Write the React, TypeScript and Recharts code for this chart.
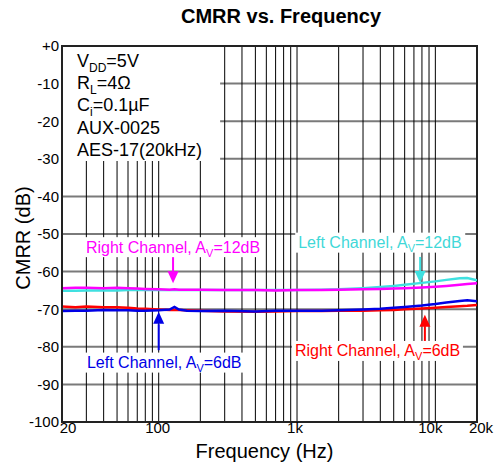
import React from "react";
import { LineChart, Line, XAxis, YAxis, CartesianGrid, ReferenceArea, ReferenceLine, ReferenceDot } from "recharts";

const freqs = [
  20, 25, 30, 40, 50, 60, 70, 80, 100, 120, 130, 140, 160, 200, 300, 500, 700, 1000, 1500, 2000, 3000, 4000, 5000,
  6000, 8000, 10000, 12000, 15000, 17000, 20000,
];

// CMRR (dB) per channel / gain
const rightCh12dB = [
  -64.4, -64.3, -64.3, -64.4, -64.3, -64.4, -64.5, -64.6, -64.7, -64.8, -64.7, -64.8, -64.8, -64.8, -64.9, -64.9, -65.0,
  -64.9, -64.9, -64.8, -64.7, -64.6, -64.5, -64.4, -64.2, -64.0, -63.8, -63.5, -63.3, -63.1,
];
const leftCh12dB = [
  -65.1, -65.1, -65.0, -65.0, -65.0, -64.9, -64.9, -64.9, -64.9, -64.9, -64.9, -64.9, -64.9, -64.9, -64.9, -64.9, -64.9,
  -64.9, -64.8, -64.7, -64.4, -64.1, -63.8, -63.5, -63.0, -62.6, -62.2, -61.8, -61.7, -62.3,
];
const leftCh6dB = [
  -70.5, -70.4, -70.4, -70.2, -70.3, -70.3, -70.4, -70.4, -70.3, -70.1, -69.4, -70.1, -70.4, -70.5, -70.4, -70.6, -70.4,
  -70.4, -70.4, -70.3, -70.1, -69.9, -69.6, -69.4, -69.0, -68.6, -68.2, -67.8, -67.6, -67.9,
];
const rightCh6dB = [
  -69.3, -69.5, -69.3, -69.5, -69.5, -69.6, -69.8, -69.9, -70.1, -70.2, -70.2, -70.2, -70.3, -70.4, -70.6, -70.7, -70.6,
  -70.5, -70.5, -70.4, -70.4, -70.3, -70.2, -70.0, -69.8, -69.6, -69.4, -69.2, -69.1, -68.9,
];

const yTicks = [0, -10, -20, -30, -40, -50, -60, -70, -80, -90, -100];
const yMinorTicks = Array.from({ length: 101 }, (_, i) => -i);
const gridFreqs = [
  20, 30, 40, 50, 60, 70, 80, 90, 100, 200, 300, 400, 500, 600, 700, 800, 900, 1000, 2000, 3000, 4000, 5000, 6000, 7000,
  8000, 9000, 10000, 20000,
];
const xTickLabels: Record<number, string> = { 20: "20", 100: "100", 1000: "1k", 10000: "10k", 20000: "20k" };
const xTickShift: Record<number, number> = { 20: 6, 100: -1, 1000: -2, 10000: -5, 20000: 4 };

const FONT = "'Liberation Sans', Arial, Helvetica, sans-serif";

const toPoints = (vals: number[]) => freqs.map((f, i) => ({ f, v: vals[i] }));

const XTick = (props: any) => {
  const { x, y, payload } = props;
  const label = xTickLabels[payload.value];
  if (!label) return <g />;
  return (
    <text x={x + (xTickShift[payload.value] || 0)} y={y} dy="0.71em" textAnchor="middle" fontSize={15} fill="#000" fontFamily={FONT}>
      {label}
    </text>
  );
};

// text with a white box behind it, "A" with subscript V
const ChannelLabel = (props: any) => {
  const { cx, cy, name, gain, color, width } = props;
  return (
    <g>
      <rect x={cx - 3} y={cy - 10} width={width + 6} height={20} fill="#fff" />
      <text x={cx} y={cy + 5.5} fontSize={16} fill={color} fontFamily={FONT}>
        {name}, A
        <tspan fontSize={11} dy={4}>
          V
        </tspan>
        <tspan dy={-4}>={gain}</tspan>
      </text>
    </g>
  );
};

const ArrowHead = (props: any) => {
  const { cx, cy, color, dir } = props;
  const h = dir === "down" ? -12 : 12;
  return <path d={`M${cx - 5.5},${cy + h}L${cx + 5.5},${cy + h}L${cx},${cy}Z`} fill={color} />;
};

const InfoText = (props: any) => {
  const { cx, cy } = props;
  const x = cx + 15;
  const t = { fontSize: 18, fill: "#000", fontFamily: FONT } as const;
  return (
    <g>
      <text x={x} y={cy + 21} {...t}>
        V<tspan fontSize={12} dy={5}>DD</tspan>
        <tspan dy={-5}>=5V</tspan>
      </text>
      <text x={x} y={cy + 43} {...t}>
        R<tspan fontSize={12} dy={5}>L</tspan>
        <tspan dy={-5}>=4Ω</tspan>
      </text>
      <text x={x} y={cy + 65} {...t}>
        C<tspan fontSize={12} dy={5}>i</tspan>
        <tspan dy={-5}>=0.1µF</tspan>
      </text>
      <text x={x} y={cy + 87.5} {...t}>
        AUX-0025
      </text>
      <text x={x} y={cy + 110} {...t}>
        AES-17(20kHz)
      </text>
    </g>
  );
};

export default function App() {
  return (
    <div style={{ position: "absolute", left: 0, top: 0, width: 502, height: 471, background: "#fff", fontFamily: FONT }}>
      <div
        style={{
          position: "absolute",
          left: 281,
          top: 5,
          transform: "translateX(-50%)",
          fontSize: 20,
          fontWeight: "bold",
          whiteSpace: "nowrap",
        }}
      >
        CMRR vs. Frequency
      </div>
      <div
        style={{
          position: "absolute",
          left: 23,
          top: 238,
          transform: "translate(-50%, -50%) rotate(-90deg)",
          fontSize: 20,
          whiteSpace: "nowrap",
        }}
      >
        CMRR (dB)
      </div>
      <LineChart width={502} height={471} margin={{ top: 46, right: 25, bottom: 0, left: 0 }}>
        <CartesianGrid vertical={false} stroke="#7a7a7a" strokeWidth={2} />
        <CartesianGrid horizontal={false} stroke="#000" strokeWidth={1} />
        <XAxis
          dataKey="f"
          type="number"
          scale="log"
          domain={[20, 20000]}
          ticks={gridFreqs}
          interval={0}
          allowDataOverflow
          height={49}
          tickLine={false}
          tickSize={0}
          tickMargin={0}
          axisLine={{ stroke: "#222", strokeWidth: 2 }}
          tick={<XTick />}
          label={{ value: "Frequency (Hz)", position: "insideBottom", offset: 13, dx: -5, fontSize: 20, fill: "#000", fontFamily: FONT }}
        />
        <YAxis
          yAxisId="minor"
          type="number"
          domain={[-100, 0]}
          ticks={yMinorTicks}
          interval={0}
          mirror
          width={0}
          tick={false}
          tickSize={3}
          axisLine={false}
          tickLine={{ stroke: "#333", strokeWidth: 1 }}
        />
        <YAxis
          type="number"
          domain={[-100, 0]}
          ticks={yTicks}
          interval={0}
          width={62}
          tickLine={false}
          tickSize={0}
          tickMargin={3}
          axisLine={{ stroke: "#222", strokeWidth: 2 }}
          tickFormatter={(v: number) => (v === 0 ? "+0" : String(v))}
          tick={{ fontSize: 15, fill: "#000", fontFamily: FONT }}
        />
        <ReferenceArea x1={20} x2={278} y1={-30.6} y2={0} fill="#fff" fillOpacity={1} stroke="none" />
        <ReferenceArea x1={20} x2={20000} y1={-100} y2={0} fill="none" stroke="#222" strokeWidth={2} />

        <Line data={toPoints(leftCh12dB)} dataKey="v" stroke="#3fe0e0" strokeWidth={2.5} dot={false} isAnimationActive={false} />
        <Line data={toPoints(rightCh12dB)} dataKey="v" stroke="#ff00ff" strokeWidth={2.5} dot={false} isAnimationActive={false} />
        <Line data={toPoints(rightCh6dB)} dataKey="v" stroke="#ff0000" strokeWidth={2.5} dot={false} isAnimationActive={false} />
        <Line data={toPoints(leftCh6dB)} dataKey="v" stroke="#0000e6" strokeWidth={2.5} dot={false} isAnimationActive={false} />

        <ReferenceDot x={20} y={0} r={0} shape={(p: any) => <InfoText {...p} />} />

        <ReferenceDot x={29.8} y={-53.5} r={0} shape={(p: any) => <ChannelLabel {...p} name="Right Channel" gain="12dB" color="#ff00ff" width={169} />} />
        <ReferenceDot x={1020} y={-52.3} r={0} shape={(p: any) => <ChannelLabel {...p} name="Left Channel" gain="12dB" color="#3fd8d8" width={164} />} />
        <ReferenceDot x={30.3} y={-84.2} r={0} shape={(p: any) => <ChannelLabel {...p} name="Left Channel" gain="6dB" color="#0000e6" width={155} />} />
        <ReferenceDot x={966} y={-81.1} r={0} shape={(p: any) => <ChannelLabel {...p} name="Right Channel" gain="6dB" color="#ff0000" width={165} />} />

        <ReferenceLine segment={[{ x: 127, y: -55.6 }, { x: 127, y: -60 }]} stroke="#ff00ff" strokeWidth={2} />
        <ReferenceDot x={127} y={-63.1} r={0} shape={(p: any) => <ArrowHead {...p} color="#ff00ff" dir="down" />} />
        <ReferenceLine segment={[{ x: 7760, y: -56.1 }, { x: 7760, y: -60 }]} stroke="#3fe0e0" strokeWidth={2} />
        <ReferenceDot x={7760} y={-63} r={0} shape={(p: any) => <ArrowHead {...p} color="#3fe0e0" dir="down" />} />
        <ReferenceLine segment={[{ x: 100, y: -80.9 }, { x: 100, y: -74 }]} stroke="#0000e6" strokeWidth={2} />
        <ReferenceDot x={100} y={-70.7} r={0} shape={(p: any) => <ArrowHead {...p} color="#0000e6" dir="up" />} />
        <ReferenceLine segment={[{ x: 8400, y: -78.7 }, { x: 8400, y: -74.5 }]} stroke="#ff0000" strokeWidth={2} />
        <ReferenceDot x={8400} y={-71.5} r={0} shape={(p: any) => <ArrowHead {...p} color="#ff0000" dir="up" />} />
      </LineChart>
    </div>
  );
}
